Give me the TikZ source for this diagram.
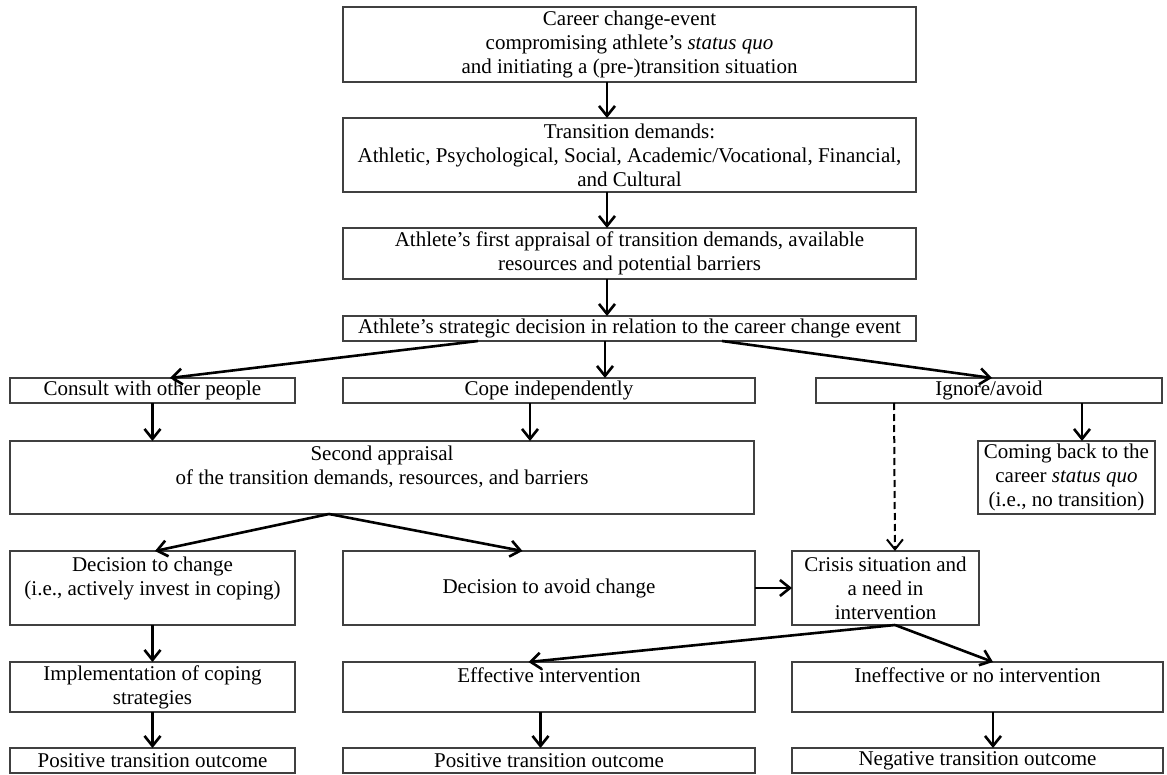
\documentclass[tikz,border=0pt]{standalone}
\usepackage{fontspec}
\setmainfont{Liberation Serif}
\usetikzlibrary{positioning,calc,arrows.meta}

\begin{document}
\begin{tikzpicture}[node distance=18pt and 24pt,
  box/.style={rectangle,draw=black!75,line width=0.8pt,align=center,inner xsep=2pt,inner ysep=1pt,outer sep=0pt},
  arr/.style={-{Straight Barb[length=5pt,width=8pt]},line width=1.3pt}]
  \fontsize{10.5}{12}\selectfont
  \useasboundingbox (-171.5pt,3.5pt) rectangle (412pt,-384pt);
  \node[box,minimum width=286.5pt,minimum height=37.5pt,anchor=north west] (ev) at (0,0) {Career change-event\\compromising athlete's \textit{status quo}\\and initiating a (pre-)transition situation};
  \node[box,minimum width=286.5pt,minimum height=37pt] (dem) [below=18pt of ev] {Transition demands:\\Athletic, Psychological, Social, Academic/Vocational, Financial,\\and Cultural};
  \node[box,minimum width=286.5pt,minimum height=25.5pt] (app1) [below=18pt of dem] {Athlete's first appraisal of transition demands, available\\resources and potential barriers};
  \node[box,minimum width=286.5pt,minimum height=12.5pt] (dec) [below=18.5pt of app1] {Athlete's strategic decision in relation to the career change event};

  \node[box,minimum width=206pt,minimum height=12.5pt] (cop) [below=18.5pt of dec.south west, anchor=north west] {Cope independently};
  \node[box,minimum width=142.5pt,minimum height=12.5pt] (con) [left=24pt of cop] {Consult with other people};
  \node[box,minimum width=173pt,minimum height=12.5pt] (ign) [right=30.5pt of cop] {Ignore/avoid};

  \node[box,minimum width=372pt,minimum height=36.5pt] (app2) [below=19pt of con.south west, anchor=north west] {Second appraisal\\of the transition demands, resources, and barriers\\~};
  \node[box,minimum width=88.5pt,minimum height=36.5pt] (back) [right=112pt of app2] {Coming back to the\\career \textit{status quo}\\(i.e., no transition)};

  \node[box,minimum width=142.5pt,minimum height=37pt] (chg) [below=18.5pt of app2.south west, anchor=north west] {Decision to change\\(i.e., actively invest in coping)\\~};
  \node[box,minimum width=206pt,minimum height=37pt] (avd) [right=24pt of chg] {Decision to avoid change};
  \node[box,minimum width=93.5pt,minimum height=37pt] (cri) [right=18.5pt of avd] {Crisis situation and\\a need in\\intervention};

  \node[box,minimum width=142.5pt,minimum height=25pt] (impl) [below=18.5pt of chg] {Implementation of coping\\strategies};
  \node[box,minimum width=206pt,minimum height=25pt] (eff) [below=18.5pt of avd] {Effective intervention\\~};
  \node[box,minimum width=185.5pt,minimum height=25pt] (ineff) [right=18.5pt of eff] {Ineffective or no intervention\\~};

  \node[box,minimum width=142.5pt,minimum height=12.5pt] (pos1) [below=18pt of impl] {Positive transition outcome};
  \node[box,minimum width=206pt,minimum height=12.5pt] (pos2) [below=18pt of eff] {Positive transition outcome};
  \node[box,minimum width=185.5pt,minimum height=12.5pt] (neg) [below=18pt of ineff] {Negative transition outcome};

  \draw[arr] ([xshift=-11.25pt]ev.south) -- ([xshift=-11.25pt]dem.north);
  \draw[arr] ([xshift=-11.25pt]dem.south) -- ([xshift=-11.25pt]app1.north);
  \draw[arr] ([xshift=-11.25pt]app1.south) -- ([xshift=-11.25pt]dec.north);

  \draw[arr] ([xshift=-75.75pt]dec.south) -- ([xshift=8.75pt]con.north);
  \draw[arr] ([xshift=-12.25pt]dec.south) -- ([xshift=28pt]cop.north);
  \draw[arr] ([xshift=46.25pt]dec.south) -- ([xshift=1.5pt]ign.north);

  \draw[arr] (con.south) -- (con.south |- app2.north);
  \draw[arr] ([xshift=-9.5pt]cop.south) -- ([xshift=74pt]app2.north);
  \draw[arr] ([xshift=46.5pt]ign.south) -- ([xshift=7.75pt]back.north);
  \draw[arr,line width=1pt,dash pattern=on 3.5pt off 2pt] ([xshift=-47.5pt]ign.south) -- ([xshift=4.75pt]cri.north);

  \draw[arr] ([xshift=-26.5pt]app2.south) -- ([xshift=1.25pt]chg.north);
  \draw[arr] ([xshift=-26.5pt]app2.south) -- ([xshift=-13.25pt]avd.north);
  \draw[arr] (avd) -- (cri);

  \draw[arr] (chg) -- (impl);
  \draw[arr] ([xshift=4.75pt]cri.south) -- ([xshift=-10.25pt]eff.north);
  \draw[arr] ([xshift=4.75pt]cri.south) -- ([xshift=7.75pt]ineff.north);

  \draw[arr] (impl) -- (pos1);
  \draw[arr] ([xshift=-4.25pt]eff.south) -- ([xshift=-4.25pt]pos2.north);
  \draw[arr] ([xshift=7.75pt]ineff.south) -- ([xshift=7.75pt]neg.north);
\end{tikzpicture}
\end{document}
